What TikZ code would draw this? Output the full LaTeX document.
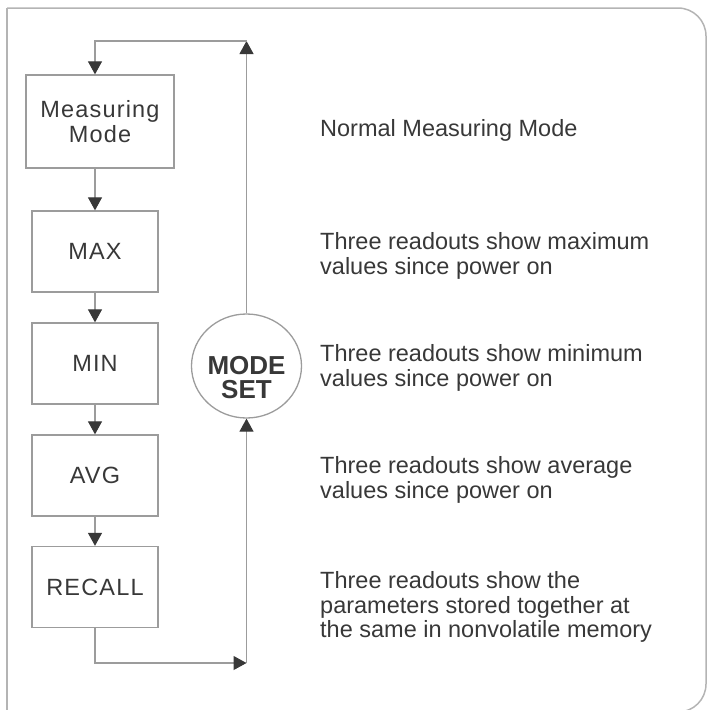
\documentclass[tikz,border=0pt]{standalone}
\usepackage{fontspec}
\setmainfont{Liberation Sans}
\newfontfamily\boxfont[LetterSpace=5]{Liberation Sans}
\usetikzlibrary{arrows.meta,shapes.geometric}
\definecolor{linegray}{HTML}{9C9C9C}
\definecolor{framegray}{HTML}{B4B4B4}
\definecolor{inkgray}{HTML}{383838}
\tikzset{
  modebox/.style={draw=linegray, line width=1.3pt, minimum width=126pt,
    minimum height=81pt, inner sep=0pt, text=inkgray, align=center,
    font=\boxfont\fontsize{23.5}{25.7}\selectfont},
  note/.style={anchor=north west, inner sep=0pt, text=inkgray, align=left,
    font=\fontsize{23.5}{24.8}\selectfont},
  flow/.style={draw=linegray, line width=1.1pt,
    -{Triangle[width=14pt,length=13pt,color=inkgray]}},
}
\begin{document}
\begin{tikzpicture}[x=1pt,y=-1pt]
      \useasboundingbox (0,0) rectangle (707,710);
      % frame
      \draw[framegray, line width=1.5pt] (7,8) -- (7,720);
      \draw[framegray, line width=1.5pt, rounded corners=28pt]
        (7,8) -- (706,8) -- (706,712) -- (600,712);
      \node[modebox, minimum width=148pt, minimum height=93pt] (meas) at (100,121.5) {Measuring\\Mode};
      \node[modebox] (max) at (95,251.5) {MAX};
      \node[modebox] (min) at (95,363.5) {MIN};
      \node[modebox] (avg) at (95,475.5) {AVG};
      \node[modebox] (rec) at (95,587) {RECALL};
      \node[draw=linegray, line width=1.3pt, ellipse, minimum width=110pt,
        minimum height=104pt] (set) at (246.5,366) {};
      \node[text=inkgray, align=center, font=\bfseries\fontsize{26}{24}\selectfont]
        (setlbl) at (246.5,378) {MODE\\SET};
      \coordinate (top) at (246.5,41);
      \coordinate (bot) at (246.5,663);
      % descriptions
      \node[note] (normd) at (320,119) {Normal Measuring Mode};
      \node[note] (maxd) at (320,232) {Three readouts show maximum\\values since power on};
      \node[note] (mind) at (320,344) {Three readouts show minimum\\values since power on};
      \node[note] (avgd) at (320,456) {Three readouts show average\\values since power on};
      \node[note] (recd) at (320,571) {Three readouts show the\\parameters stored together at\\the same in nonvolatile memory};
      \begin{scope}[flow]
        \draw (set.north) -- (top);
        \draw (top) -| (meas.north -| max.north);
        \draw (meas.south -| max.north) -- (max.north);
        \draw (max) -- (min);
        \draw (min) -- (avg);
        \draw (avg) -- (rec);
        \draw (rec.south) |- (bot);
        \draw (bot) -- (set.south);
      \end{scope}
    \end{tikzpicture}
\end{document}
